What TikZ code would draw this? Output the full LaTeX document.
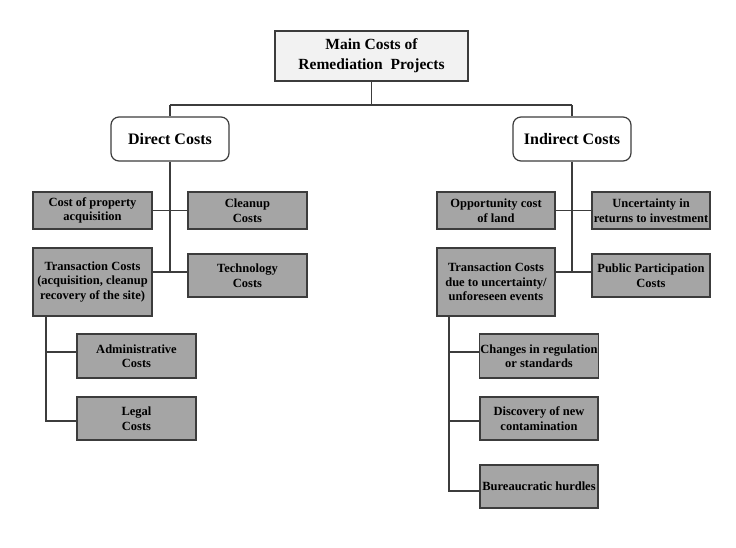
\documentclass[tikz,border=0pt]{standalone}
\usepackage{fontspec}
\setmainfont{Liberation Serif}
\definecolor{boxgray}{RGB}{165,165,165}
\definecolor{linegray}{RGB}{60,60,60}
\definecolor{maingray}{RGB}{242,242,242}
\begin{document}
\begin{tikzpicture}[x=1pt,y=-1pt,
  base/.style={draw=linegray, line width=1.2pt, align=center, inner sep=1pt, font=\bfseries},
  mainbox/.style={base, fill=maingray, minimum width=193pt, minimum height=50pt, font=\fontsize{15.5}{20}\selectfont\bfseries},
  catbox/.style={base, fill=white, rounded corners=8pt, minimum width=118pt, minimum height=44pt, font=\fontsize{16}{19}\selectfont\bfseries},
  cbox/.style={base, fill=boxgray, minimum width=119pt, font=\fontsize{12.5}{14.5}\selectfont\bfseries},
  conn/.style={draw=linegray, line width=1.2pt}]
\useasboundingbox (0,0) rectangle (736,547);
\fill[white] (0,0) rectangle (736,547);

\node[mainbox] (main) at (371.5,56) {Main Costs of\\Remediation~ Projects};
\node[catbox] (direct) at (170,139) {Direct Costs};
\node[catbox] (indirect) at (572,139) {Indirect Costs};

\node[cbox, minimum height=37pt] (prop) at (92.5,210.5) {Cost of property\\acquisition};
\node[cbox, minimum height=37pt] (clean) at (247.5,210.5) {Cleanup\\Costs};
\node[cbox, minimum height=68pt] (trans) at (92.5,282) {Transaction Costs\\(acquisition, cleanup\\recovery of the site)};
\node[cbox, minimum height=43pt] (tech) at (247.5,275.5) {Technology\\Costs};
\node[cbox, minimum height=44pt] (admin) at (136.5,356) {Administrative\\Costs};
\node[cbox, minimum height=43pt] (legal) at (136.5,418.5) {Legal\\Costs};

\node[cbox, minimum height=37pt, minimum width=118pt] (opp) at (496,210.5) {Opportunity cost\\of land};
\node[cbox, minimum height=37pt, minimum width=118pt] (unc) at (651,210.5) {Uncertainty in\\returns to investment};
\node[cbox, minimum height=68pt, minimum width=118pt] (itrans) at (496,282) {Transaction Costs\\due to uncertainty/\\unforeseen events};
\node[cbox, minimum height=43pt, minimum width=118pt] (pub) at (651,275.5) {Public Participation\\Costs};
\node[cbox, minimum height=44pt, minimum width=118pt] (chg) at (539,356) {Changes in regulation\\or standards};
\node[cbox, minimum height=43pt, minimum width=118pt] (disc) at (539,418.5) {Discovery of new\\contamination};
\node[cbox, minimum height=43pt, minimum width=118pt] (bur) at (539,486.5) {Bureaucratic hurdles};

\coordinate (hl) at (170,105);
\coordinate (hr) at (572,105);
\coordinate (dv) at (170,272);
\coordinate (iv) at (572,272);
\coordinate (ta) at (46,352);
\coordinate (tb) at (46,421);
\coordinate (ia) at (449,352);
\coordinate (ic) at (449,421);
\coordinate (ib) at (449,491);

\draw[conn] (main.south) -- (main.south |- hl);
\draw[conn] (hl) -- (hr);
\draw[conn] (hl) -- (direct.north);
\draw[conn] (hr) -- (indirect.north);
\draw[conn] (direct.south) -- (dv);
\draw[conn] (indirect.south) -- (iv);
\draw[conn] (prop.east) -- (clean.west);
\draw[conn] (trans.east |- dv) -- (tech.west |- dv);
\draw[conn] (opp.east) -- (unc.west);
\draw[conn] (itrans.east |- iv) -- (pub.west |- iv);
\draw[conn] (trans.south -| tb) -- (tb) -- (legal.west |- tb);
\draw[conn] (ta) -- (admin.west |- ta);
\draw[conn] (itrans.south -| ib) -- (ib) -- (bur.west |- ib);
\draw[conn] (ia) -- (chg.west |- ia);
\draw[conn] (ic) -- (disc.west |- ic);
\end{tikzpicture}
\end{document}
